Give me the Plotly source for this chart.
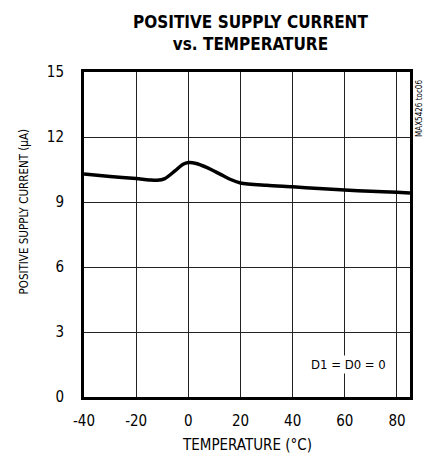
import plotly.graph_objects as go

temps = [-40, -30, -20, -15, -12, -9, -5, -2, 0, 3, 7, 12, 16, 20, 30, 40, 50, 60, 70, 80, 85]
current = [10.29, 10.18, 10.08, 10.02, 10.0, 10.08, 10.45, 10.74, 10.82, 10.78, 10.6, 10.3, 10.05, 9.88, 9.77, 9.7, 9.62, 9.55, 9.5, 9.45, 9.42]

x_ticks = [-40, -20, 0, 20, 40, 60, 80]
y_ticks = [0, 3, 6, 9, 12, 15]

FONT = "DejaVu Sans Condensed, Liberation Sans Narrow, sans-serif"

fig = go.Figure()
fig.add_trace(go.Scatter(x=temps, y=current, mode="lines",
                         line=dict(color="black", width=3.5, shape="spline", smoothing=0.8),
                         showlegend=False, hoverinfo="skip"))

fig.update_layout(
    width=439, height=455,
    margin=dict(l=76, r=37, t=64, b=66),
    paper_bgcolor="white", plot_bgcolor="white",
    font=dict(family=FONT, color="black", size=14),
    xaxis=dict(range=[-40, 85], tickvals=x_ticks, ticktext=[str(v) for v in x_ticks],
               showgrid=True, gridcolor="#222", gridwidth=1, zeroline=False,
               showline=True, linecolor="black", linewidth=3, mirror=True,
               ticks="outside", ticklen=8, tickcolor="rgba(0,0,0,0)",
               tickfont=dict(size=15), automargin=False),
    yaxis=dict(range=[0, 15], tickvals=y_ticks, ticktext=[str(v) for v in y_ticks],
               showgrid=True, gridcolor="#222", gridwidth=1, zeroline=False,
               showline=True, linecolor="black", linewidth=3, mirror=True,
               ticks="outside", ticklen=14, tickcolor="rgba(0,0,0,0)",
               tickfont=dict(size=15), automargin=False),
)

fig.add_annotation(x=0.5, y=1.0, xref="paper", yref="paper", xanchor="center", yanchor="bottom",
                   xshift=3, yshift=16, text="<b>POSITIVE SUPPLY CURRENT<br>vs. TEMPERATURE</b>",
                   showarrow=False, font=dict(size=17, color="black"))
fig.add_annotation(x=0.5, y=0, xref="paper", yref="paper", xanchor="center", yanchor="middle",
                   yshift=-48, text="TEMPERATURE (°C)", showarrow=False,
                   font=dict(size=15, color="black"))
fig.add_annotation(x=0, y=0.5, xref="paper", yref="paper", xanchor="center", yanchor="middle",
                   xshift=-61, yshift=23, text="POSITIVE SUPPLY CURRENT (µA)", textangle=-90,
                   showarrow=False, font=dict(size=11.5, color="black"))
fig.add_annotation(x=1.0, y=1.0, xref="paper", yref="paper", xanchor="left", yanchor="top",
                   xshift=3, yshift=-6, text="MAX5426 toc06", textangle=-90, showarrow=False,
                   font=dict(size=8, color="black"))
fig.add_annotation(x=0.81, y=0.1, xref="paper", yref="paper", xanchor="center", yanchor="middle",
                   text="D1 = D0 = 0", showarrow=False, font=dict(size=13, color="black"),
                   bgcolor="white")

fig.write_html("out.html")
